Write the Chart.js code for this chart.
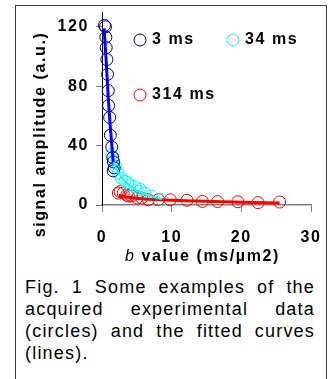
<!DOCTYPE html>
<html>
<head>
<meta charset="utf-8">
<script src="https://cdn.jsdelivr.net/npm/chart.js@4"></script>
<style>
    html, body { margin: 0; padding: 0; background: #fff; }
    body { width: 331px; height: 379px; position: relative; overflow: hidden; }
    #cuadro { position: absolute; left: 15px; top: 5px; width: 310px; height: 420px; border: 1px solid #404040; }
    #grafica { position: absolute; left: 0; top: 0; }
    #pie {
        position: absolute; left: 25px; top: 276px; width: 290px;
        font: 18px 'Liberation Sans', Arial, sans-serif; letter-spacing: 1.2px;
        line-height: 22px; text-align: justify; color: #000;
    }
</style>
</head>
<body>
<div id="cuadro"></div>
<canvas id="grafica" width="331" height="272"></canvas>
<div id="pie">Fig. 1 Some examples of the acquired experimental data (circles) and the fitted curves (lines).</div>
<script>
// nombres de las series (tiempo de difusión)
const series = ['3 ms', '34 ms', '314 ms'];

// datos medidos (círculos): valor b y amplitud
const bCorto = [0.35, 0.5, 0.55, 0.6, 0.7, 0.8, 0.9, 0.95, 1.1, 1.2, 1.4, 1.55, 1.65, 1.75, 1.6];
const sCorto = [121, 120, 113, 106, 98, 88, 77, 67, 59, 47, 39, 32, 29, 25, 23];

const bMedio = [1.4, 1.6, 2.0, 2.3, 2.8, 3.3, 3.7, 4.0, 4.7, 5.2, 5.5, 6.2, 7.1, 8.6];
const sMedio = [34, 30, 26, 21.5, 18, 16, 15, 13.5, 12.5, 9, 10.5, 8, 6, 3.5];

const bLargo = [2.35, 2.6, 3.05, 3.55, 3.8, 4.25, 5.0, 5.7, 6.65, 8.1, 9.8, 12.2, 14.4, 16.6, 19.5, 22.4, 25.5];
const sLargo = [8, 9, 8, 6.7, 6, 6, 4.7, 4.7, 3.6, 3.6, 3.5, 3.2, 2.4, 2.3, 2.2, 1.6, 2.0];

// curvas ajustadas (líneas)
const bAjusteCorto = [0.3, 0.6, 0.9, 1.2, 1.45, 1.6];
const sAjusteCorto = [119, 97, 72, 52, 38, 29];

const bAjusteMedio = [1.4, 2, 3, 4, 5, 6, 7, 8.6];
const sAjusteMedio = [33, 25, 17.5, 13, 10, 7.5, 5.8, 4];

const bAjusteLargo = [2.4, 4, 6, 9, 12, 16, 20, 25.5];
const sAjusteLargo = [6.5, 5, 4, 3.4, 2.9, 2.4, 1.9, 1.3];

// ejes
const ticksX = [0, 10, 20, 30];
const ticksY = [0, 40, 80, 120];
const tituloX = ['b', ' value (ms/\u00b5m2)'];
const tituloY = 'signal amplitude (a.u.)';

const FUENTE = "'Liberation Sans', Arial, sans-serif";
const colores = ['#000080', '#00ffff', '#ff0000'];
const coloresLinea = ['#0000ff', '#00ffff', '#ff0000'];

function puntos(bs, ss) {
    return bs.map(function (b, i) { return { x: b, y: ss[i] }; });
}

function circulos(bs, ss, i) {
    return {
        label: series[i],
        data: puntos(bs, ss),
        showLine: false,
        pointStyle: 'circle',
        pointRadius: 6,
        pointBorderWidth: 1,
        pointBorderColor: colores[i],
        pointBackgroundColor: 'rgba(0,0,0,0)',
        clip: false,
        order: 2
    };
}

function linea(bs, ss, i, ancho) {
    return {
        label: series[i] + ' ajuste',
        data: puntos(bs, ss),
        showLine: true,
        borderColor: coloresLinea[i],
        borderWidth: ancho,
        pointRadius: 0,
        tension: 0.4,
        cubicInterpolationMode: 'monotone',
        clip: false,
        order: 1
    };
}

const rotulos = {
    id: 'rotulos',
    beforeDraw(chart) {
        chart.ctx.letterSpacing = '1.6px';
    },
    afterDraw(chart) {
        const ctx = chart.ctx;
        ctx.save();
        ctx.letterSpacing = '1.6px';
        ctx.fillStyle = '#000';
        ctx.textBaseline = 'middle';

        // título eje y
        ctx.save();
        ctx.font = 'bold 16px ' + FUENTE;
        ctx.translate(40.5, 134.5);
        ctx.rotate(-Math.PI / 2);
        ctx.textAlign = 'center';
        ctx.fillText(tituloY, 0, 0);
        ctx.restore();

        // título eje x (b en cursiva)
        ctx.textAlign = 'left';
        ctx.font = 'italic 16px ' + FUENTE;
        const w1 = ctx.measureText(tituloX[0]).width;
        ctx.font = 'bold 16px ' + FUENTE;
        const w2 = ctx.measureText(tituloX[1]).width;
        let x0 = 202.5 - (w1 + w2) / 2;
        ctx.font = 'italic 16px ' + FUENTE;
        ctx.fillText(tituloX[0], x0, 257);
        ctx.font = 'bold 16px ' + FUENTE;
        ctx.fillText(tituloX[1], x0 + w1, 257);

        // leyenda
        const lugares = [[140, 40], [233, 40], [140, 95]];
        ctx.lineWidth = 1;
        series.forEach(function (nombre, i) {
            const p = lugares[i];
            ctx.beginPath();
            ctx.arc(p[0], p[1], 6, 0, Math.PI * 2);
            ctx.strokeStyle = colores[i];
            ctx.stroke();
            ctx.fillText(nombre, p[0] + 12, p[1]);
        });
        ctx.restore();
    }
};

new Chart(document.getElementById('grafica'), {
    type: 'scatter',
    data: {
        datasets: [
            linea(bAjusteCorto, sAjusteCorto, 0, 3),
            linea(bAjusteMedio, sAjusteMedio, 1, 2),
            linea(bAjusteLargo, sAjusteLargo, 2, 3),
            circulos(bCorto, sCorto, 0),
            circulos(bMedio, sMedio, 1),
            circulos(bLargo, sLargo, 2)
        ]
    },
    options: {
        responsive: false,
        animation: false,
        events: [],
        layout: { padding: { left: 0, top: 12, right: 20, bottom: 0 } },
        plugins: {
            legend: { display: false },
            tooltip: { enabled: false }
        },
        scales: {
            x: {
                type: 'linear',
                min: 0,
                max: 30,
                afterBuildTicks: function (s) {
                    s.ticks = ticksX.map(function (v) { return { value: v }; });
                },
                afterFit: function (s) {
                    s.height = 67;
                    s.paddingLeft = 0;
                    s.paddingRight = 0;
                },
                ticks: {
                    color: '#000',
                    padding: 16,
                    maxRotation: 0,
                    font: { family: FUENTE, size: 16, weight: 'bold' }
                },
                grid: {
                    drawOnChartArea: false,
                    tickLength: 7,
                    tickColor: '#808080'
                },
                border: { color: '#808080', width: 1.5 }
            },
            y: {
                min: 0,
                max: 130,
                afterBuildTicks: function (s) {
                    s.ticks = ticksY.map(function (v) { return { value: v }; });
                },
                afterFit: function (s) {
                    s.width = 102;
                    s.paddingTop = 0;
                    s.paddingBottom = 0;
                },
                ticks: {
                    color: '#000',
                    padding: 7,
                    font: { family: FUENTE, size: 16, weight: 'bold' }
                },
                grid: {
                    drawOnChartArea: false,
                    tickLength: 6,
                    tickColor: '#808080'
                },
                border: { color: '#000', width: 1 }
            }
        }
    },
    plugins: [rotulos]
});
</script>
</body>
</html>
